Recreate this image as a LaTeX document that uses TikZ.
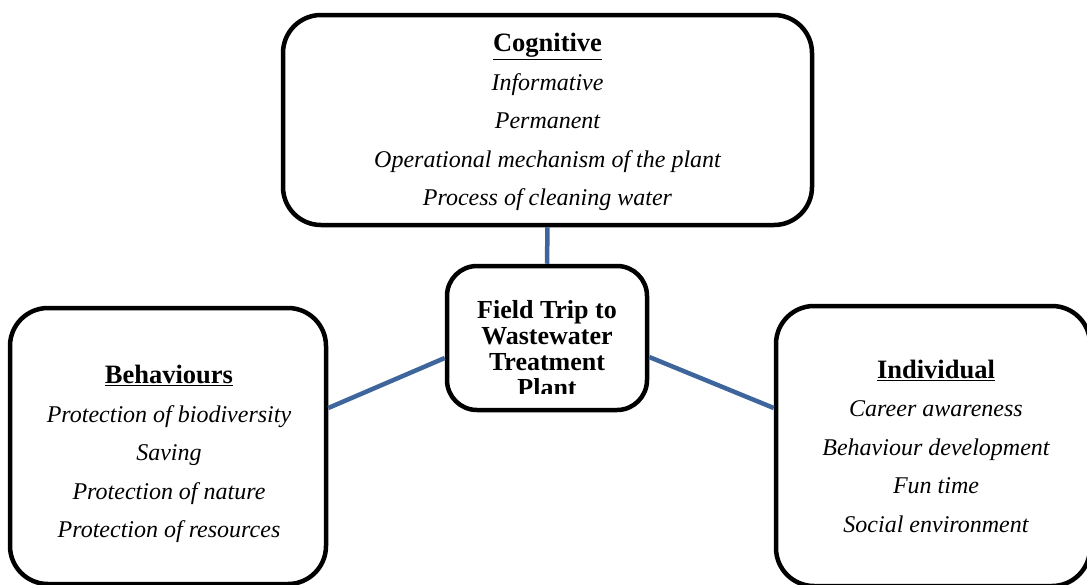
\documentclass[tikz,border=0pt]{standalone}
\usepackage{fontspec}
\setmainfont{Liberation Serif}
\usepackage{xcolor}
\definecolor{linkblue}{RGB}{62,102,156}
\newcommand{\boxhead}[1]{{\upshape\bfseries\fontsize{26.5}{38}\selectfont\underline{#1}}}

\begin{document}
\begin{tikzpicture}[x=1pt,y=-1pt,
	box/.style={draw=black,line width=4.5pt,rounded corners=38pt},
	boxtext/.style={align=center,inner sep=0pt,font=\fontsize{24}{38.5}\selectfont\itshape},
	hub/.style={draw=black,line width=4.5pt,rounded corners=30pt,
		minimum width=200pt,minimum height=144pt},
	link/.style={draw=linkblue,line width=4.5pt}]
		\useasboundingbox (0,0) rectangle (1087,584);
		\clip (0,0) rectangle (1087,584);
		% the three outer boxes
		\node[box,minimum width=529pt,minimum height=210pt] (cog) at (547.5,120) {};
		\node[boxtext] (cogtext) at (547.5,122)
		{\boxhead{Cognitive}\\Informative\\Permanent\\Operational mechanism of the plant\\Process of cleaning water};
		\node[box,minimum width=316pt,minimum height=276pt] (beh) at (168,446) {};
		\node[boxtext] (behtext) at (169,454)
		{\boxhead{Behaviours}\\Protection of biodiversity\\Saving\\Protection of nature\\Protection of resources};
		\node[box,minimum width=314pt,minimum height=280pt] (ind) at (933,446) {};
		\node[boxtext] (indtext) at (936,446)
		{\boxhead{Individual}\\Career awareness\\Behaviour development\\Fun time\\Social environment};
		% centre box, text cut off at the bottom
		\node[hub] (trip) at (547,338) {};
		\begin{scope}
			\clip (trip.west |- 0,290) rectangle (trip.east |- 0,393);
			\node[align=center,inner sep=0pt,font=\fontsize{26}{26}\selectfont\bfseries] (triptext) at (547,349)
			{Field Trip to\\Wastewater\\Treatment\\Plant};
		\end{scope}
		% connectors
		\draw[link] (cog.south) -- (trip.north);
		\draw[link] (beh.east |- 0,408) -- (trip.west |- 0,358);
		\draw[link] (trip.east |- 0,357) -- (ind.west |- 0,408);
	\end{tikzpicture}
\end{document}
